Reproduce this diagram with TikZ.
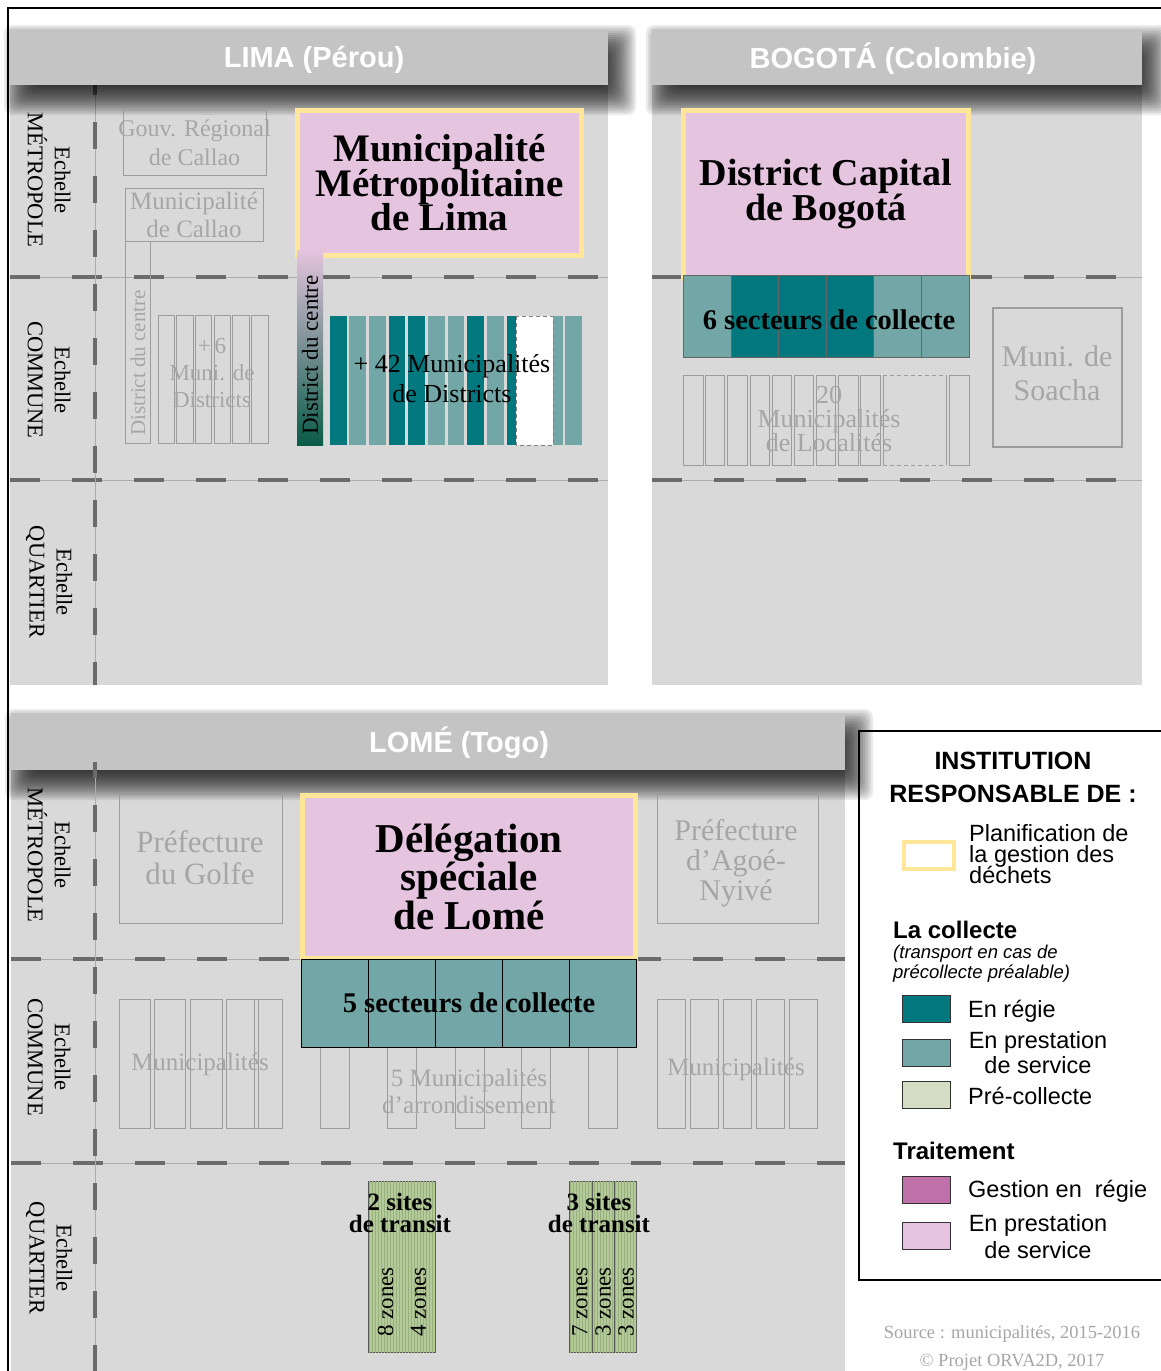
\documentclass[tikz,border=0pt]{standalone}
\usepackage{fontspec}
\setmainfont{Liberation Serif}
\newfontfamily\legendfont{Liberation Sans}
\usetikzlibrary{patterns}
\lineskiplimit=-100pt

\definecolor{panelgray}{HTML}{D9D9D9}
\definecolor{headgray}{HTML}{C4C4C4}
\definecolor{dashgray}{HTML}{6B6B6B}
\definecolor{thinline}{HTML}{ABABAB}
\definecolor{ghostline}{HTML}{9C9C9C}
\definecolor{ghosttext}{HTML}{A6A6A6}
\definecolor{pinkfill}{HTML}{E4C4DE}
\definecolor{planyellow}{HTML}{FFE699}
\definecolor{tealdark}{HTML}{00787E}
\definecolor{teallight}{HTML}{73A6A6}
\definecolor{zonegreen}{HTML}{B5CA9B}
\definecolor{zoneline}{HTML}{98B07C}
\definecolor{precol}{HTML}{D5DCC4}
\definecolor{traitpurple}{HTML}{C070A8}
\definecolor{centregreen}{HTML}{0B5B48}

% soft shadow under a title bar, from its top left to its bottom right corner
\newcommand{\barshadow}[2]{%
  \foreach \k in {0,...,15}
    \fill[black, opacity=0.08, rounded corners=8pt]
      ([xshift={-6pt+2pt*\k}, yshift={4pt-2pt*\k}]#1) rectangle
      ([xshift={28pt-2pt*\k}, yshift={-30pt+2pt*\k}]#2);}

\tikzset{
  panel/.style={fill=panelgray},
  headbar/.style={fill=headgray, inner sep=0pt, minimum height=56pt},
  headtitle/.style={text=white, font=\legendfont\bfseries\fontsize{29}{30}\selectfont},
  scaleline/.style={draw=thinline, line width=0.8pt,
    postaction={draw=dashgray, line width=4.5pt, dash pattern=on 30pt off 32pt}},
  scalevline/.style={draw=thinline, line width=0.8pt,
    postaction={draw=dashgray, line width=4.5pt, dash pattern=on 27pt off 27pt, dash phase=#1}},
  scalevline/.default=0pt,
  scalelabel/.style={rotate=-90, align=center, font=\fontsize{22.5}{27}\selectfont},
  planbox/.style={draw=planyellow, fill=pinkfill, line width=5pt, inner sep=0pt, align=center},
  ghostbox/.style={draw=ghostline, line width=1pt, inner sep=0pt},
  ghostlabel/.style={text=ghosttext, align=center, inner sep=0pt},
  ghostcol/.style={draw=ghostline, line width=0.9pt},
  sectorlabel/.style={font=\bfseries\fontsize{28.5}{30}\selectfont},
  zonecol/.style={draw=black!65, line width=0.9pt, fill=zonegreen,
    postaction={pattern=vertical lines, pattern color=zoneline}},
  zonelabel/.style={rotate=90, font=\fontsize{23}{24}\selectfont},
  transitlabel/.style={align=center, font=\bfseries\fontsize{25}{22}\selectfont},
  swatch/.style={draw=black!80, line width=1pt, minimum width=48pt, minimum height=27pt, inner sep=0pt},
  legendhead/.style={anchor=base west, inner sep=0pt, font=\legendfont\bfseries\fontsize{24}{26}\selectfont},
  legenditem/.style={anchor=base west, inner sep=0pt, font=\legendfont\fontsize{23.5}{25}\selectfont},
}

\begin{document}
\begin{tikzpicture}[x=1pt, y=-1pt]
  \useasboundingbox (0,0) rectangle (1161,1371);
  \fill[white] (0,0) rectangle (1161,1371);
  \clip (0,0) rectangle (1161,1371);
  \draw[line width=1.3pt] (8,1371) -- (8,8) -- (1161,8);

  % Legend
  \draw[line width=1.2pt] (859,731) rectangle (1180,1280);
  \node[align=center, font=\legendfont\bfseries\fontsize{25}{33}\selectfont] (legtitle) at (1013,777) {INSTITUTION\\RESPONSABLE DE :};
  \node[draw=planyellow, fill=white, line width=4pt, minimum width=50pt, minimum height=27pt, inner sep=0pt] (legplan) at (929,855.5) {};
  \node[anchor=north west, inner sep=0pt, align=left, font=\legendfont\fontsize{23.5}{21}\selectfont] (legplantext) at (969,824) {Planification de\\la gestion des\\déchets};
  \node[legendhead] (legcoll) at (893,938) {La collecte};
  \node[anchor=north west, inner sep=0pt, align=left, font=\legendfont\itshape\fontsize{18.5}{20}\selectfont] (legcollsub) at (893,945) {(transport en cas de\\précollecte préalable)};
  \node[swatch, fill=tealdark] (legregie) at (926,1008.5) {};
  \node[legenditem] (legregietext) at (968,1017) {En régie};
  \node[swatch, fill=teallight] (legprest) at (926,1052.5) {};
  \node[anchor=north, inner sep=0pt, align=center, font=\legendfont\fontsize{23.5}{25}\selectfont] (legpresttext) at (1038,1031) {En prestation\\de service};
  \node[swatch, fill=precol] (legprecol) at (926,1095) {};
  \node[legenditem] (legprecoltext) at (968,1104) {Pré-collecte};
  \node[legendhead] (legtrait) at (893,1159) {Traitement};
  \node[swatch, fill=traitpurple] (leggestion) at (926,1189.5) {};
  \node[legenditem] (leggestiontext) at (968,1197) {Gestion en\ \ régie};
  \node[swatch, fill=pinkfill] (legtraitprest) at (926,1236) {};
  \node[anchor=north, inner sep=0pt, align=center, font=\legendfont\fontsize{23.5}{27}\selectfont] (legtraitpresttext) at (1038,1214) {En prestation\\de service};
  \node[anchor=north, inner sep=0pt, align=center, text=ghosttext, font=\fontsize{18.5}{28}\selectfont] (source) at (1012,1325) {Source : municipalités, 2015-2016\\© Projet ORVA2D, 2017};

  % LIMA
  \fill[panel] (10,85) rectangle (608,685);
  \draw[scaleline] (10,277) -- (608,277);
  \draw[scaleline] (10,480) -- (608,480);
  \draw[scalevline] (95,68) -- (95,685);
  \barshadow{10,29}{608,85}
  \node[headbar, minimum width=598pt] (limabar) at (309,57) {};
  \node[headtitle] (limatitle) at (314,60) {LIMA (Pérou)};
  \node[scalelabel] (limametro) at (49,180) {Echelle\\MÉTROPOLE};
  \node[scalelabel] (limacomm) at (49,380) {Echelle\\COMMUNE};
  \node[scalelabel] (limaquart) at (49,582) {Echelle\\QUARTIER};

  \node[ghostbox, minimum width=143pt, minimum height=65pt] (gouvcallao) at (194.5,142.5) {};
  \node[ghostlabel, font=\fontsize{24}{29}\selectfont] (gouvtext) at (gouvcallao.center) {Gouv. Régional\\de Callao};
  \node[ghostbox, minimum width=138pt, minimum height=53pt] (municallao) at (194,214.5) {};
  \node[ghostlabel, font=\fontsize{25}{28}\selectfont] (municallaotext) at (194,215) {Municipalité\\de Callao};
  \draw[ghostcol] (125,241) rectangle (150,443);
  \node[ghostlabel, rotate=90, font=\fontsize{21}{22}\selectfont] (callaocentre) at (138,363) {District du centre};
  \foreach \i in {0,...,5}
    \draw[ghostcol] ({158+18.7*\i},315) rectangle ++(16.5,128);
  \node[ghostlabel, font=\fontsize{23}{27}\selectfont] (sixmuni) at (212,373) {+\,6\\Muni. de\\Districts};

  \node[planbox, minimum width=284pt, minimum height=145pt, font=\bfseries\fontsize{39}{34.5}\selectfont] (mmlima) at (439.5,183) {Municipalité\\Métropolitaine\\de Lima};
  \shade[top color=pinkfill, middle color=gray!85, bottom color=centregreen] (297,250) rectangle (323,445);
  \node[rotate=90, font=\fontsize{23}{24}\selectfont] (limacentre) at (310,355) {District du centre};
  \foreach \xa/\xb/\c in {330/347/tealdark, 349/366/teallight, 369/386/teallight, 389/405/tealdark,
      408/425/tealdark, 428/445/teallight, 448/464/teallight, 467/484/tealdark, 487/504/teallight,
      507/516/tealdark, 553/563/teallight, 565/582/teallight}
    \fill[\c] (\xa,316) rectangle (\xb,445);
  \draw[fill=white, draw=gray, line width=0.8pt, dash pattern=on 4pt off 3pt] (516,316) rectangle (553,445);
  \node[align=center, font=\fontsize{26}{30}\selectfont] (fortytwo) at (452,379) {+ 42 Municipalités\\de Districts};

  % BOGOTA
  \fill[panel] (652,85) rectangle (1142,685);
  \draw[scaleline] (652,277) -- (1142,277);
  \draw[scaleline] (652,480) -- (1142,480);
  \barshadow{652,29}{1142,85}
  \node[headbar, minimum width=490pt] (bogobar) at (897,57) {};
  \node[headtitle] (bogotitle) at (893,59) {BOGOTÁ (Colombie)};

  \node[planbox, minimum width=285pt, minimum height=167.5pt, font=\bfseries\fontsize{38}{35}\selectfont] (dcbogota) at (826,194.25) {District Capital\\de Bogotá};
  \foreach \xa/\xb/\c in {683/731/teallight, 731/778/tealdark, 778/826/tealdark, 826/873/tealdark,
      873/921/teallight, 921/969/teallight}
    \filldraw[fill=\c, draw=gray!80!black, line width=0.6pt] (\xa,275) rectangle (\xb,357);
  \node[sectorlabel] (sixsect) at (829,320) {6 secteurs de collecte};

  \foreach \xa/\xb in {683/703, 705/724, 727/747, 750/769, 772/791, 794/813, 816/835, 838/858, 860/880, 949/969}
    \draw[ghostcol] (\xa,375) rectangle (\xb,465);
  \draw[ghostcol] (883,375) -- (883,465);
  \draw[ghostcol] (946,375) -- (946,465);
  \draw[ghostcol, dash pattern=on 4pt off 3pt] (883,375) -- (946,375);
  \draw[ghostcol, dash pattern=on 4pt off 3pt] (883,465) -- (946,465);
  \node[ghostlabel, font=\fontsize{26}{24}\selectfont] (twentymuni) at (829,419) {20\\Municipalités\\de Localités};

  \node[ghostbox, line width=2pt, minimum width=129pt, minimum height=139pt] (soacha) at (1057.5,377.5) {};
  \node[ghostlabel, font=\fontsize{30}{34}\selectfont] (soachatext) at (1057,373) {Muni. de\\Soacha};

  % LOME
  \fill[panel] (11,770) rectangle (845,1371);
  \draw[scaleline] (11,959) -- (845,959);
  \draw[scaleline] (11,1163) -- (845,1163);
  \barshadow{11,713}{845,770}
  \node[headbar, minimum width=834pt, minimum height=57pt] (lomebar) at (428,741.5) {};
  \node[headtitle] (lometitle) at (459,743) {LOMÉ (Togo)};
  \draw[scalevline=11pt] (95,762) -- (95,1371);
  \node[scalelabel] (lomemetro) at (49,855) {Echelle\\MÉTROPOLE};
  \node[scalelabel] (lomecomm) at (49,1057) {Echelle\\COMMUNE};
  \node[scalelabel] (lomequart) at (49,1258) {Echelle\\QUARTIER};

  \node[ghostbox, minimum width=163pt, minimum height=129pt] (golfe) at (200.5,859) {};
  \node[ghostlabel, font=\fontsize{31}{32}\selectfont] (golfetext) at (200,858) {Préfecture\\du Golfe};
  \node[ghostbox, minimum width=161pt, minimum height=129pt] (agoe) at (737.5,859) {};
  \node[ghostlabel, font=\fontsize{30}{30}\selectfont] (agoetext) at (736,863) {Préfecture\\d’Agoé-\\Nyivé};
  \node[planbox, minimum width=333pt, minimum height=162.5pt, font=\bfseries\fontsize{41}{38.5}\selectfont] (dslome) at (469,876.75) {Délégation\\spéciale\\de Lomé};

  \foreach \xa/\xb in {119/150, 154/185, 190/222, 226/258, 254/282}
    \draw[ghostcol] (\xa,999) rectangle (\xb,1128);
  \foreach \xa in {320,387,455,521,588}
    \draw[ghostcol] (\xa,999) rectangle ++(29,129);
  \foreach \xa in {657,690,723,756,789}
    \draw[ghostcol] (\xa,999) rectangle ++(28.5,129);
  \node[ghostlabel, font=\fontsize{25}{27}\selectfont] (lomemunileft) at (200,1064) {Municipalités};
  \node[ghostlabel, font=\fontsize{25}{27}\selectfont] (lomemuniright) at (736,1069) {Municipalités};
  \foreach \i in {0,...,4}
    \filldraw[fill=teallight, draw=black, line width=1pt] ({301+67*\i},959) rectangle ++(67,88);
  \node[sectorlabel] (fivesect) at (469,1003) {5 secteurs de collecte};
  \node[ghostlabel, font=\fontsize{25}{27}\selectfont] (arrondtext) at (469,1091) {5 Municipalités\\d’arrondissement};

  \foreach \xa/\xb in {368/402, 402/435, 569/592, 592/614, 614/636}
    \draw[zonecol] (\xa,1181) rectangle (\xb,1352);
  \node[transitlabel] (transitA) at (400,1213) {2 sites\\de transit};
  \node[transitlabel] (transitB) at (599,1213) {3 sites\\de transit};
  \node[zonelabel] (zoneA) at (385.5,1302) {8 zones};
  \node[zonelabel] (zoneB) at (418.5,1302) {4 zones};
  \node[zonelabel] (zoneC) at (580,1302) {7 zones};
  \node[zonelabel] (zoneD) at (603,1302) {3 zones};
  \node[zonelabel] (zoneE) at (626,1302) {3 zones};
\end{tikzpicture}
\end{document}
